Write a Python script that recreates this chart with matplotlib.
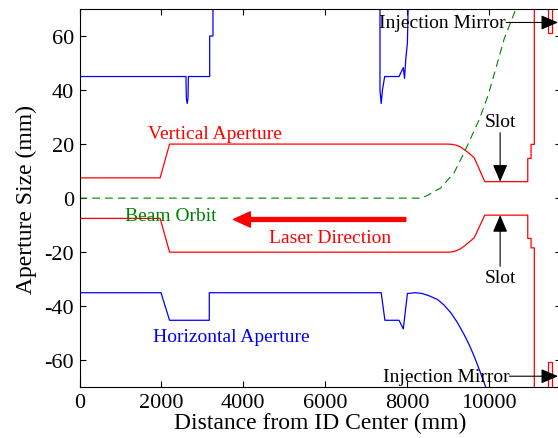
import numpy as np
import matplotlib.pyplot as plt

plt.rcParams['font.family'] = ['Liberation Serif', 'DejaVu Serif']
plt.rcParams['axes.unicode_minus'] = False

# vertical aperture (red), upper and lower edges (mm)
vert_x = [0, 1970, 2200, 8990, 9100, 9200, 9300, 9395, 9500, 9640, 9900,
          10950, 10950, 11030, 11030, 11110, 11110]
vert_up = [7.5, 7.5, 20, 20, 19.9, 19.6, 19.0, 18.0, 16.8, 15.0, 6.1,
           6.1, 14.7, 14.7, 19.9, 19.9, 80]
vert_lo = [-7.5, -7.5, -20, -20, -19.9, -19.5, -18.8, -17.8, -16.5, -14.7, -6.3,
           -6.3, -14.9, -14.9, -18.4, -18.4, -80]

# injection mirror outline (red)
mirror_x = [11450, 11450, 11530, 11530]
mirror_up = [80, 61, 61, 80]
mirror_lo = [-80, -60.5, -60.5, -80]

# horizontal aperture (blue)
hor_up_x = [0, 2600, 2610, 2630, 2650, 2660, 3180, 3180, 3260, 3260,
            7340, 7340, 7370, 7400, 7455, 7805, 7910, 7940, 7970, 8010, 8030]
hor_up_y = [45, 45, 37, 35, 37, 45, 45, 60, 60, 80,
            80, 40, 35, 40, 45, 45, 48.3, 44.3, 51.4, 57.5, 72]
hor_lo_x = [0, 1990, 2200, 3170, 3170, 7370, 7460, 7805, 7910, 8010,
            8200, 8375, 8550, 8745, 8900, 9070, 9230, 9395, 9520, 9640, 9780, 9925, 10000]
hor_lo_y = [-35, -35, -45.2, -45.2, -35, -35, -45.2, -45.2, -48.4, -35.3,
            -35, -35.3, -36.2, -37.5, -39.5, -42.4, -46, -50.5, -54.3, -58.5, -64, -70, -73]

# beam orbit (green dashed)
orbit_x = [0, 8350, 8500, 8825, 9150, 9395, 9600, 9765, 9980, 10170, 10375, 10660, 10720]
orbit_y = [0, 0, 1.0, 3.8, 9.4, 16.8, 23.6, 29.1, 38, 48, 59, 70, 72]

fig = plt.figure(figsize=(5.58, 4.39), dpi=100)
ax = fig.add_axes([0.1425, 0.1155, 0.862, 0.8618])

ax.plot(vert_x, vert_up, color='red', lw=0.9)
ax.plot(vert_x, vert_lo, color='red', lw=0.9)
ax.plot(mirror_x, mirror_up, color='red', lw=0.9)
ax.plot(mirror_x, mirror_lo, color='red', lw=0.9)
ax.plot(hor_up_x, hor_up_y, color='blue', lw=0.9)
ax.plot(hor_lo_x, hor_lo_y, color='blue', lw=0.9)
ax.plot(orbit_x, orbit_y, color='green', lw=0.8, dashes=(7, 4.5))

ax.set_xlim(0, 11750)
ax.set_ylim(-70, 70)
ax.set_xticks([0, 2000, 4000, 6000, 8000, 10000])
ax.set_yticks([-60, -40, -20, 0, 20, 40, 60])
ax.tick_params(direction='in', length=4, width=0.8, labelsize=16,
               top=True, right=True, pad=4)
for s in ax.spines.values():
    s.set_linewidth(0.8)

ax.set_xlabel('Distance from ID Center (mm)', fontsize=17, labelpad=0)
ax.set_ylabel('Aperture Size (mm)', fontsize=17, labelpad=5)

fs = 14
ax.text(3300, 24, 'Vertical Aperture', color='red', fontsize=fs, ha='center', va='center')
ax.text(2220, -6.3, 'Beam Orbit', color='green', fontsize=fs, ha='center', va='center')
ax.text(6110, -14.7, 'Laser Direction', color='red', fontsize=fs, ha='center', va='center')
ax.text(3710, -51.3, 'Horizontal Aperture', color='blue', fontsize=fs, ha='center', va='center')
ax.text(10280, 28.5, 'Slot', fontsize=fs, ha='center', va='center')
ax.text(10280, -29.5, 'Slot', fontsize=fs, ha='center', va='center')
ax.text(10420, 65, 'Injection Mirror', fontsize=fs, ha='right', va='center')
ax.text(10500, -65.9, 'Injection Mirror', fontsize=fs, ha='right', va='center')

black_arrow = dict(arrowstyle='-|>,head_length=0.7,head_width=0.3', color='black',
                   lw=0.8, mutation_scale=15, shrinkA=0, shrinkB=0)
ax.annotate('', xy=(10275, 6.1), xytext=(10275, 24.2), arrowprops=black_arrow)
ax.annotate('', xy=(10275, -6.3), xytext=(10275, -25.2), arrowprops=black_arrow)
ax.annotate('', xy=(11690, 65), xytext=(10420, 65), arrowprops=black_arrow)
ax.annotate('', xy=(11690, -65.9), xytext=(10500, -65.9), arrowprops=black_arrow)

# laser direction arrow
ax.annotate('', xy=(3765, -7.9), xytext=(7970, -7.9),
            arrowprops=dict(arrowstyle='simple,head_width=1.1,head_length=1.2,tail_width=0.28',
                            color='red', mutation_scale=10, shrinkA=0, shrinkB=0))

plt.savefig('out.png', dpi=100)
